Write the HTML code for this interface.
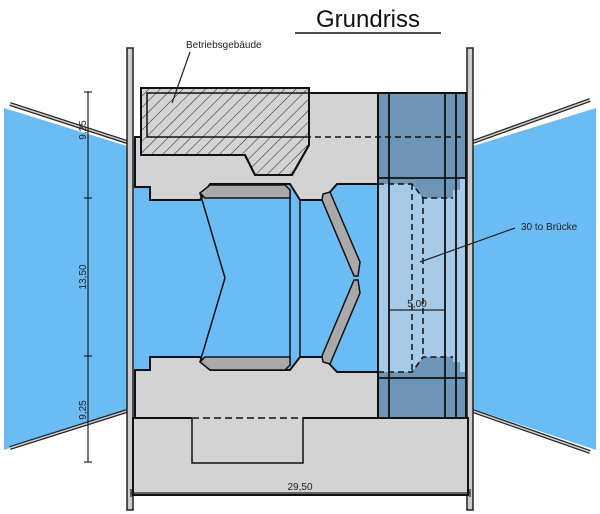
<!DOCTYPE html>
<html><head><meta charset="utf-8"><style>body{margin:0;background:#fff}svg{display:block}text{font-family:"Liberation Sans",sans-serif}</style></head><body>
<svg width="600" height="514" viewBox="0 0 600 514" xmlns="http://www.w3.org/2000/svg">
<defs><pattern id="h" width="8" height="8" patternUnits="userSpaceOnUse" patternTransform="rotate(45)"><line x1="0" y1="0" x2="0" y2="8" stroke="#222" stroke-width="1"/></pattern></defs>
<polygon points="4,108 130,147 130,408 4,450" fill="#6bbbf4"/>
<polygon points="596,108 470,147 470,408 596,450" fill="#6bbbf4"/>
<rect x="130" y="140" width="340" height="275" fill="#6bbbf4"/>
<polyline points="10,104 130,143" fill="none" stroke="#222" stroke-width="4"/>
<polyline points="10,104 130,143" fill="none" stroke="#ccc" stroke-width="1.5"/>
<polyline points="590,100 470,143" fill="none" stroke="#222" stroke-width="4"/>
<polyline points="590,100 470,143" fill="none" stroke="#ccc" stroke-width="1.5"/>
<polyline points="10,448 130,410" fill="none" stroke="#222" stroke-width="4"/>
<polyline points="10,448 130,410" fill="none" stroke="#ccc" stroke-width="1.5"/>
<polyline points="590,452 470,410" fill="none" stroke="#222" stroke-width="4"/>
<polyline points="590,452 470,410" fill="none" stroke="#ccc" stroke-width="1.5"/>
<rect x="127" y="48" width="6" height="462" fill="#ccc" stroke="#222" stroke-width="1.5"/>
<rect x="467" y="48" width="6" height="462" fill="#ccc" stroke="#222" stroke-width="1.5"/>
<polygon points="147,93 378,93 378,184 337,184 323,200 300,200 290,184 210,184 200,200 150,200 150,187 135,187 135,137 147,137" fill="#d3d3d3" stroke="#111" stroke-width="2"/>
<polygon points="150,357 200,357 210,370 290,370 300,357 323,357 337,372 378,372 378,418 135,418 135,370 150,370" fill="#d3d3d3" stroke="#111" stroke-width="2"/>
<rect x="133" y="418" width="335" height="77" fill="#d3d3d3" stroke="#111" stroke-width="2"/>
<polyline points="192,418 192,463 303,463 303,418" fill="none" stroke="#111" stroke-width="1.5"/>
<line x1="192" y1="418" x2="303" y2="418" stroke="#d3d3d3" stroke-width="2"/>
<line x1="192" y1="418" x2="303" y2="418" stroke="#111" stroke-width="1.5" stroke-dasharray="7,4"/>
<rect x="378" y="93" width="88" height="325" fill="#a7cbe6" stroke="#111" stroke-width="2"/>
<polygon points="378,93 466,93 466,178 460,178 460,190 453,190 453,198 423,198 412,184 378,184" fill="#6e95b5"/>
<polygon points="378,418 466,418 466,372 460,372 460,362 453,362 453,357 423,357 412,372 378,372" fill="#6e95b5"/>
<rect x="378" y="93" width="88" height="325" fill="none" stroke="#111" stroke-width="2"/>
<g stroke="#111" stroke-width="1.8"><line x1="389" y1="93" x2="389" y2="418"/><line x1="445" y1="93" x2="445" y2="418"/><line x1="456" y1="93" x2="456" y2="418"/><line x1="378" y1="178" x2="466" y2="178"/><line x1="378" y1="378" x2="466" y2="378"/></g>
<g stroke="#111" stroke-width="1.5" stroke-dasharray="6,4" fill="none"><polyline points="378,184 412,184 423,198 453,198"/><polyline points="378,372 412,372 423,357 453,357"/><line x1="412" y1="184" x2="412" y2="372"/><line x1="423" y1="198" x2="423" y2="357"/><line x1="135" y1="137" x2="466" y2="137"/></g>
<polygon points="141,88 309,88 309,145 292,175 255,175 245,155 141,155" fill="#d3d3d3" stroke="#111" stroke-width="2"/>
<polygon points="141,88 309,88 309,145 292,175 255,175 245,155 141,155" fill="url(#h)" stroke="#111" stroke-width="2"/>
<rect x="147" y="93" width="162" height="44" fill="none" stroke="#111" stroke-width="1.5"/>
<polyline points="200,193 225,278 200,362" fill="none" stroke="#111" stroke-width="1.5"/>
<line x1="290" y1="190" x2="290" y2="366" stroke="#111" stroke-width="1.5"/>
<line x1="300" y1="200" x2="300" y2="357" stroke="#111" stroke-width="1.5"/>
<polygon points="200,193 210,185 285,185 290,190 290,198 205,198" fill="#a9a9a9" stroke="#111" stroke-width="1.5"/>
<polygon points="200,362 210,370 285,370 290,365 290,357 205,357" fill="#a9a9a9" stroke="#111" stroke-width="1.5"/>
<polygon points="323,194 330,192 360,262 358,276 354,276 322,200" fill="#a9a9a9" stroke="#111" stroke-width="1.5"/>
<polygon points="323,362 330,364 360,293 358,280 354,280 322,356" fill="#a9a9a9" stroke="#111" stroke-width="1.5"/>
<g stroke="#222" stroke-width="1.2"><line x1="88" y1="92" x2="88" y2="462"/><line x1="84" y1="92" x2="92" y2="92"/><line x1="84" y1="198" x2="92" y2="198"/><line x1="84" y1="356" x2="92" y2="356"/><line x1="84" y1="462" x2="92" y2="462"/>
<line x1="131" y1="493" x2="470" y2="493"/><line x1="131" y1="489" x2="131" y2="497"/><line x1="470" y1="489" x2="470" y2="497"/>
<line x1="389" y1="310" x2="445" y2="310"/>
<line x1="190" y1="52" x2="172" y2="103"/><line x1="515" y1="228" x2="420" y2="262"/></g>
<g font-size="10" fill="#222">
<text transform="translate(86,130) rotate(-90)" text-anchor="middle">9,25</text>
<text transform="translate(86,277) rotate(-90)" text-anchor="middle">13,50</text>
<text transform="translate(86,410) rotate(-90)" text-anchor="middle">9,25</text>
<text x="300" y="490" text-anchor="middle">29,50</text>
<text x="417" y="307" text-anchor="middle">5,00</text>
<text x="186" y="48">Betriebsgebäude</text>
<text x="521" y="230">30 to Brücke</text>
</g>
<text x="368" y="27" font-size="24" text-anchor="middle" fill="#111">Grundriss</text>
<line x1="295" y1="33" x2="441" y2="33" stroke="#111" stroke-width="1.5"/>
</svg>
</body></html>
